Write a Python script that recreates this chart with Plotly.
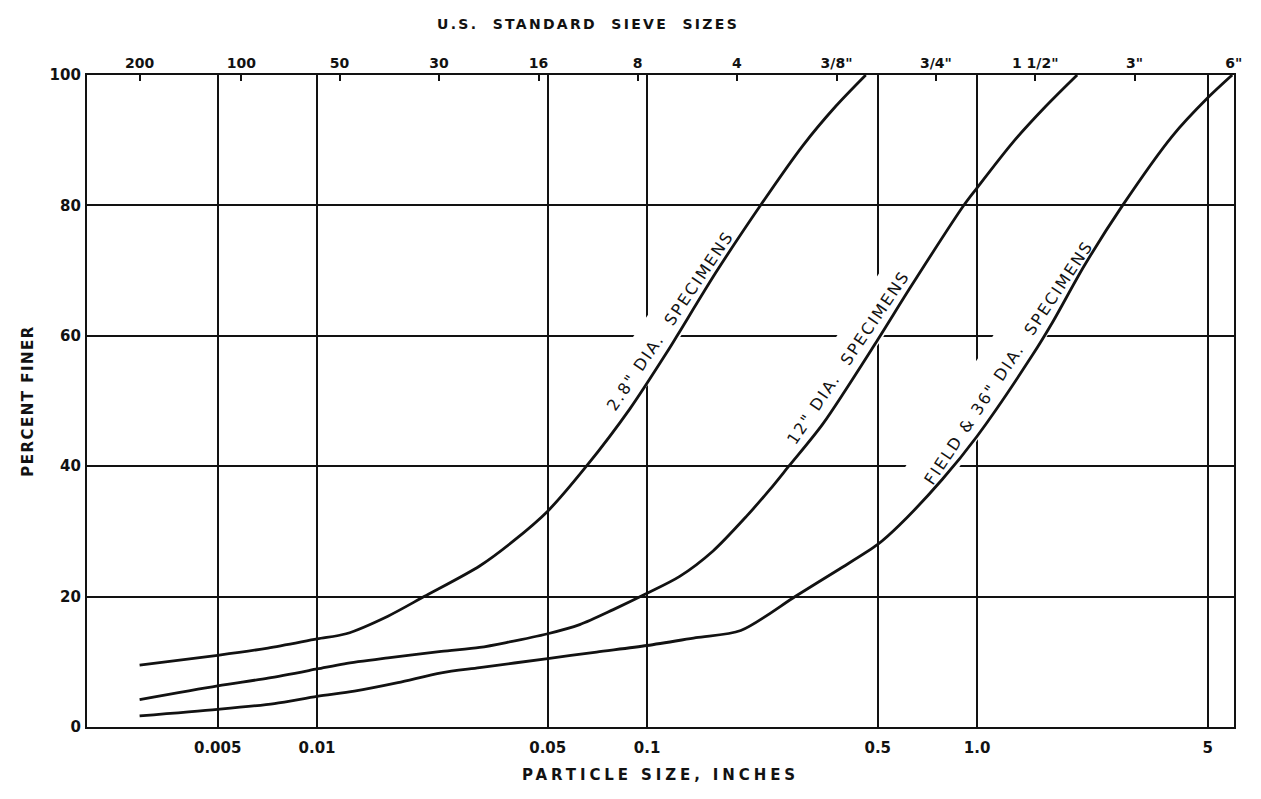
import numpy as np
import plotly.graph_objects as go

# ---------------- data ----------------
# 2.8" dia. specimens
size_28 = [0.0029, 0.005, 0.0071, 0.01, 0.01225, 0.0164, 0.0211, 0.0311, 0.0393, 0.05,
           0.0655, 0.0887, 0.1146, 0.124, 0.1616, 0.2213, 0.2958, 0.373, 0.46]
pf_28 = [9.5, 11.0, 12.1, 13.5, 14.3, 17.0, 20.0, 24.7, 28.5, 33.1,
         40.0, 48.8, 57.4, 60.2, 69.7, 80.1, 89.1, 95.2, 100]

# 12" dia. specimens
size_12 = [0.0029, 0.005, 0.0071, 0.01, 0.0121, 0.0164, 0.0238, 0.0311, 0.0379, 0.05,
           0.0625, 0.079, 0.1, 0.1256, 0.1585, 0.2, 0.2354, 0.2688, 0.341, 0.5,
           0.622, 0.914, 1.0, 1.28, 1.615, 2.01]
pf_12 = [4.2, 6.3, 7.5, 8.9, 9.7, 10.6, 11.6, 12.2, 13.0, 14.3,
         15.7, 18.0, 20.5, 23.1, 27.0, 32.3, 36.4, 40.0, 46.5, 59.4,
         67.1, 80.1, 82.7, 89.6, 95.2, 100]

# Field & 36" dia. specimens
size_36 = [0.0029, 0.005, 0.00743, 0.01, 0.01297, 0.01758, 0.0238, 0.0311, 0.05, 0.0703,
           0.1, 0.1406, 0.1923, 0.2826, 0.382, 0.5, 0.58, 0.785, 1.0, 1.47,
           1.69, 2.11, 2.76, 3.9, 5.0, 5.93]
pf_36 = [1.7, 2.7, 3.6, 4.7, 5.5, 6.8, 8.3, 9.1, 10.5, 11.5,
         12.5, 13.7, 14.8, 20.1, 24.2, 28.0, 30.9, 38.0, 44.6, 57.0,
         62.0, 70.7, 80.0, 90.6, 96.5, 100]

# axes
size_ticks = [0.005, 0.01, 0.05, 0.1, 0.5, 1.0, 5]
size_tick_text = ["0.005", "0.01", "0.05", "0.1", "0.5", "1.0", "5"]
pct_ticks = [0, 20, 40, 60, 80, 100]
sieve_in = [0.0029, 0.0059, 0.0117, 0.0234, 0.0469, 0.0937, 0.187, 0.375, 0.75, 1.5, 3.0, 6.0]
sieve_text = ["200", "100", "50", "30", "16", "8", "4", '3/8"', '3/4"', '1 1/2"', '3"', '6"']

# curve labels: text, anchor size, anchor percent, angle
label_text = ['2.8" DIA.  SPECIMENS', '12" DIA.  SPECIMENS', 'FIELD & 36" DIA.  SPECIMENS']
label_size = [0.1178, 0.408, 1.248]
label_pct = [62.3, 56.6, 55.9]
label_angle = [56, 56, 56.2]
label_half_len = [112, 109, 152]
label_band_up = [22, 22, 28]

# ---------------- geometry ----------------
W, H = 1261, 799
M = dict(l=87, r=27, t=75, b=72)
X_RANGE = [-2.697, 0.7785]
PL, PR, PT, PB = M["l"], W - M["r"], M["t"], H - M["b"]
INK = "#121212"
FONT = "DejaVu Sans"


def to_px(x, y):
    px = PL + (np.log10(x) - X_RANGE[0]) / (X_RANGE[1] - X_RANGE[0]) * (PR - PL)
    py = PB - y / 100.0 * (PB - PT)
    return px, py


def from_px(px, py):
    lx = X_RANGE[0] + (px - PL) / (PR - PL) * (X_RANGE[1] - X_RANGE[0])
    y = (PB - py) / (PB - PT) * 100.0
    return 10 ** lx, y


fig = go.Figure()

# white bands behind the curve labels (the drafted grid is broken there)
for xs, ys, ang, hl, up in zip(label_size, label_pct, label_angle, label_half_len, label_band_up):
    cx, cy = to_px(xs, ys)
    a = np.radians(ang)
    u = np.array([np.cos(a), -np.sin(a)])      # along text
    n = np.array([-np.sin(a), -np.cos(a)])     # towards top of text
    c = np.array([cx, cy])
    down = 17
    corners = [c - u * hl + n * up, c + u * hl + n * up, c + u * hl - n * down, c - u * hl - n * down]
    mx, my = [], []
    for p in corners + [corners[0]]:
        vx, vy = from_px(p[0], p[1])
        mx.append(vx)
        my.append(vy)
    fig.add_trace(go.Scatter(x=mx, y=my, mode="lines", fill="toself", fillcolor="white",
                             line=dict(color="white", width=0), hoverinfo="skip", showlegend=False))

for xs, ys in [(size_28, pf_28), (size_12, pf_12), (size_36, pf_36)]:
    fig.add_trace(go.Scatter(x=xs, y=ys, mode="lines",
                             line=dict(color=INK, width=2.8, shape="spline", smoothing=0.8),
                             hoverinfo="skip", showlegend=False))

# carrier for the top (sieve) axis
fig.add_trace(go.Scatter(x=sieve_in, y=[None] * len(sieve_in), xaxis="x2", mode="lines",
                         hoverinfo="skip", showlegend=False))

annotations = []
for t, xs, ys, ang in zip(label_text, label_size, label_pct, label_angle):
    annotations.append(dict(
        x=np.log10(xs), y=ys, xref="x", yref="y", showarrow=False,
        text='<span style="letter-spacing:2px">' + t + "</span>",
        textangle=-ang, xanchor="center", yanchor="middle",
        font=dict(family=FONT, size=16, color=INK)))

annotations.append(dict(
    x=(587.5 - PL) / (PR - PL), y=1 + (PT - 24) / (PB - PT), xref="paper", yref="paper",
    showarrow=False, xanchor="center", yanchor="middle",
    text='<span style="letter-spacing:2.3px">U.S.  STANDARD  SIEVE  SIZES</span>',
    font=dict(family=FONT, size=14, color=INK, weight="bold")))

fig.update_layout(
    width=W, height=H, margin=M,
    paper_bgcolor="white", plot_bgcolor="white",
    font=dict(family=FONT, color=INK),
    showlegend=False,
    annotations=annotations,
    xaxis=dict(
        type="log", range=X_RANGE, tickvals=size_ticks, ticktext=size_tick_text,
        showgrid=True, gridcolor=INK, gridwidth=1.9,
        showline=True, linecolor=INK, linewidth=2.2, mirror=True,
        ticks="", ticklabelstandoff=6, zeroline=False,
        tickfont=dict(family=FONT, size=15, color=INK, weight="bold"),
        title=dict(text='<span style="letter-spacing:3.9px">PARTICLE SIZE, INCHES</span>',
                   standoff=13, font=dict(family=FONT, size=15, color=INK, weight="bold")),
    ),
    xaxis2=dict(
        type="log", range=X_RANGE, overlaying="x", side="top", anchor="y",
        tickvals=sieve_in, ticktext=sieve_text,
        ticks="inside", ticklen=6, tickwidth=1.8, tickcolor=INK,
        showgrid=False, showline=False, zeroline=False, ticklabelstandoff=3,
        tickfont=dict(family=FONT, size=14, color=INK, weight="bold"),
    ),
    yaxis=dict(
        range=[0, 100], tickvals=pct_ticks,
        showgrid=True, gridcolor=INK, gridwidth=1.9,
        showline=True, linecolor=INK, linewidth=2.2, mirror=True,
        ticks="", ticklabelstandoff=1, zeroline=False,
        tickfont=dict(family=FONT, size=15, color=INK, weight="bold"),
        title=dict(text='<span style="letter-spacing:1.5px">PERCENT FINER</span>',
                   standoff=12, font=dict(family=FONT, size=15, color=INK, weight="bold")),
    ),
)

fig.write_html("out.html")
